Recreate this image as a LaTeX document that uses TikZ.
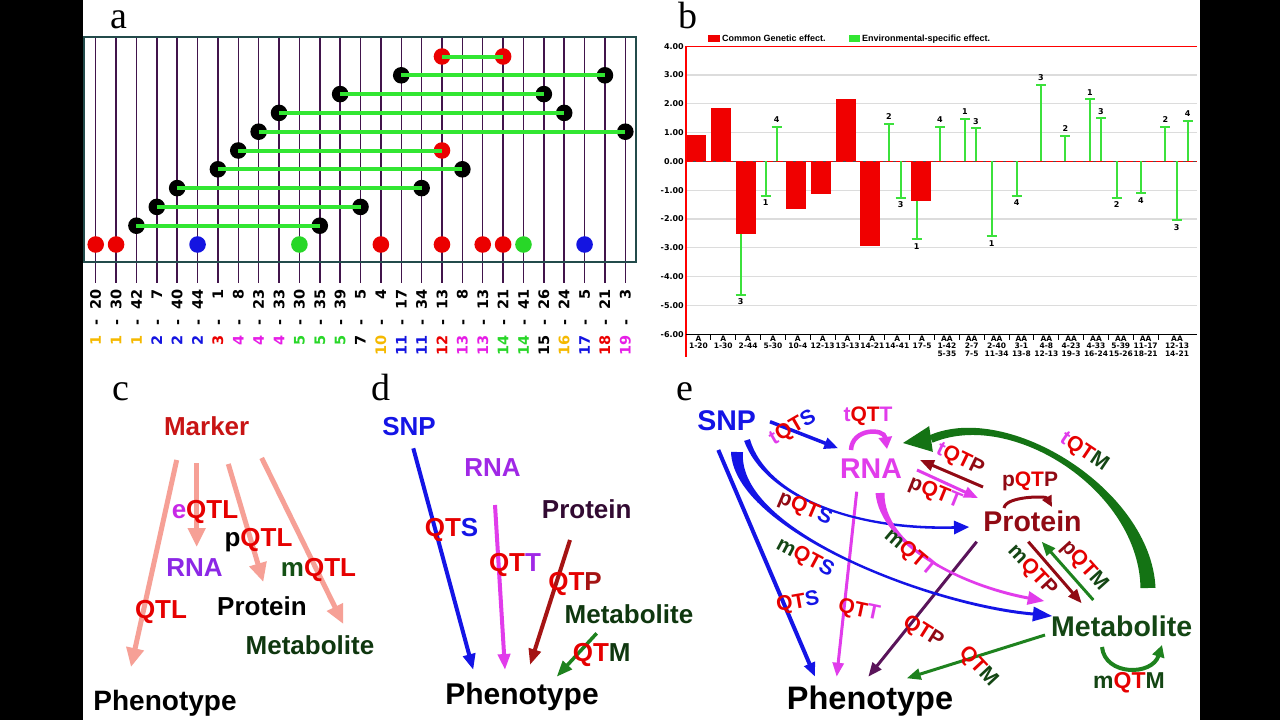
\documentclass[tikz,border=0pt]{standalone}
\usepackage{fontspec}
\setmainfont{Liberation Serif}
\newfontfamily\arl{Liberation Sans}
\newfontfamily\djv{DejaVu Sans}
\usetikzlibrary{arrows.meta,calc}

\definecolor{agold}{RGB}{245,185,0}
\definecolor{ablue}{RGB}{20,20,225}
\definecolor{ared}{RGB}{235,0,0}
\definecolor{amag}{RGB}{230,30,230}
\definecolor{agreen}{RGB}{40,215,40}
\definecolor{ablack}{RGB}{0,0,0}
\definecolor{vline}{RGB}{65,20,75}
\definecolor{frm}{RGB}{35,75,75}
\definecolor{lgreen}{RGB}{50,230,50}
\definecolor{bred}{RGB}{240,0,0}
\definecolor{egreen}{RGB}{60,225,60}
\definecolor{salmon}{RGB}{246,160,150}
\definecolor{qred}{RGB}{230,0,0}
\definecolor{mred}{RGB}{200,20,20}
\definecolor{cpurple}{RGB}{140,40,230}
\definecolor{emag}{RGB}{200,40,230}
\definecolor{dgreen}{RGB}{20,80,20}
\definecolor{metgreen}{RGB}{15,55,15}
\definecolor{sblue}{RGB}{20,20,230}
\definecolor{dpurple}{RGB}{160,40,230}
\definecolor{protd}{RGB}{50,10,50}
\definecolor{darkred}{RGB}{165,20,20}
\definecolor{arrgreen}{RGB}{30,130,30}
\definecolor{emagenta}{RGB}{225,60,235}
\definecolor{eprot}{RGB}{145,10,20}
\definecolor{emet}{RGB}{20,70,20}
\definecolor{epurple}{RGB}{90,20,90}
\definecolor{bgreen}{RGB}{20,115,20}
\definecolor{gridg}{RGB}{220,220,220}

\newcommand\fsz[1]{\fontsize{#1}{#1}\selectfont}
\newcommand\myQT{\textcolor{qred}{QT}}
% tapered filled curve: colour, P0, P1, P2, P3, half widths at P0, P1, P2, P3
\newcommand\taper[9]{%
 \fill[#1] ($(#2)!#6!90:(#3)$) .. controls ($(#3)!#7!-90:(#2)$) and ($(#4)!#8!90:(#5)$) .. ($(#5)!#9!-90:(#4)$) -- ($(#5)!#9!90:(#4)$) .. controls ($(#4)!#8!-90:(#5)$) and ($(#3)!#7!90:(#2)$) .. ($(#2)!#6!-90:(#3)$) -- cycle;}
% arrow head: colour, base centre, tip, half width
\newcommand\ahead[4]{\fill[#1] (#3) -- ($(#2)!#4!90:(#3)$) -- ($(#2)!#4!-90:(#3)$) -- cycle;}

\tikzset{
 plab/.style={inner sep=0, font=\fsz{38}, anchor=base},
 alab/.style={inner sep=0, font=\djv\bfseries\fsz{14.5}, rotate=90, anchor=west},
 vln/.style={vline, line width=1.5pt},
 dot/.style={circle, inner sep=0, minimum size=16.6pt},
 gbar/.style={lgreen, line width=4pt},
 ylab/.style={inner sep=0, font=\djv\bfseries\fsz{8}, anchor=east},
 xlab/.style={inner sep=0, font=\djv\bfseries\fsz{7.5}, anchor=base},
 elab/.style={inner sep=0, font=\djv\bfseries\fsz{8}},
 ebar/.style={egreen, line width=2pt},
 lbl/.style={inner sep=0, font=\arl\bfseries\fsz{26}, anchor=base},
 elbl/.style={inner sep=0, font=\arl\bfseries\fsz{28.5}, anchor=base},
 slbl/.style={inner sep=0, font=\arl\bfseries\fsz{21}},
 carr/.style={salmon, line width=5pt, -{Triangle[length=19pt,width=17pt]}},
 darr/.style={line width=4pt, -{Triangle[length=16pt,width=12pt]}},
 earr/.style={line width=3pt, -{Triangle[length=14pt,width=11pt]}},
}

\begin{document}
\begin{tikzpicture}[x=1pt,y=-1pt]
\useasboundingbox (0,0) rectangle (1280,720);
\fill[black] (0,0) rectangle (1280,720);
\fill[white] (83,0) rectangle (1200,720);

% ================= panel a =================
\node[plab] (pa) at (119,28) {a};
\foreach \i in {0,...,26} \draw[vln] ({95.7+20.37*\i},37) -- ({95.7+20.37*\i},283);
\draw[frm, line width=2.5pt] (84,37) rectangle (636,262);
\foreach \i/\a/\b/\c in {0/1/20/agold,1/1/30/agold,2/1/42/agold,3/2/7/ablue,4/2/40/ablue,5/2/44/ablue,6/3/1/ared,7/4/8/amag,8/4/23/amag,9/4/33/amag,10/5/30/agreen,11/5/35/agreen,12/5/39/agreen,13/7/5/ablack,14/10/4/agold,15/11/17/ablue,16/11/34/ablue,17/12/13/ared,18/13/8/amag,19/13/13/amag,20/14/21/agreen,21/14/41/agreen,22/15/26/ablack,23/16/24/agold,24/17/5/ablue,25/18/21/ared,26/19/3/amag}
  \node[alab] (lab\i) at ({95.7+20.37*\i},356) {\makebox[20.2pt][r]{\color{\c}\a}\makebox[25.6pt][c]{-}\makebox[20.2pt][r]{\b}};
\foreach \i/\c in {0/ared,1/ared,5/ablue,10/agreen,14/ared,17/ared,19/ared,20/ared,21/agreen,24/ablue}
  \node[dot, fill=\c] (b\i) at ({95.7+20.37*\i},244.5) {};
\foreach \r/\y/\l/\rr/\cl/\cr in {1/56.5/17/20/ared/ared,2/75.3/15/25/black/black,3/94.1/12/22/black/black,4/112.9/9/23/black/black,5/131.7/8/26/black/black,6/150.5/7/17/black/ared,7/169.3/6/18/black/black,8/188.1/4/16/black/black,9/206.9/3/13/black/black,10/225.7/2/11/black/black}{
  \node[dot, fill=\cl] (L\r) at ({95.7+20.37*\l},\y) {};
  \node[dot, fill=\cr] (R\r) at ({95.7+20.37*\rr},\y) {};
  \draw[gbar] (L\r.center) -- (R\r.center);
}

% ================= panel b =================
\node[plab] (pb) at (688,28) {b};
\fill[bred] (708,35) rectangle (720,41.7);
\node[inner sep=0, font=\arl\bfseries\fsz{9}, anchor=base west] (lg1) at (722,41.5) {Common Genetic effect.};
\fill[lgreen] (849,35) rectangle (860,41.7);
\node[inner sep=0, font=\arl\bfseries\fsz{9}, anchor=base west] (lg2) at (862,41.5) {Environmental-specific effect.};
\foreach \v in {-5,-4,-3,-2,-1,1,2,3} \draw[gridg, line width=1.2pt] (686,{161.3-28.8*\v}) -- (1197,{161.3-28.8*\v});
\foreach \v/\t in {4/4.00,3/3.00,2/2.00,1/1.00,0/0.00,-1/-1.00,-2/-2.00,-3/-3.00,-4/-4.00,-5/-5.00,-6/-6.00}
  \node[ylab] at (684,{161.3-28.8*\v}) {\t};
\foreach \c/\v in {696/0.93,721/1.84,746/-2.53,796/-1.67,821/-1.12,845.7/2.17,870/-2.94,921/-1.38}
  \fill[bred] ({\c-10},161.3) rectangle ({\c+10},{161.3-28.8*\v});
\draw[gray!60!black, line width=1.2pt] (686,161.3) -- (1197,161.3);
\draw[red, line width=1.2pt, dash pattern=on 7pt off 3pt] (686,161.3) -- (1197,161.3);
\foreach \x/\a/\b/\n/\o in {740.7/-2.53/-4.64/3/7, 765.7/0/-1.19/1/7, 776.7/0/1.2/4/-7, 889/0/1.3/2/-7, 900.7/0/-1.26/3/7, 916.7/-1.38/-2.71/1/7, 940/0/1.2/4/-7, 965/0/1.47/1/-7, 976/0/1.15/3/-7, 991.7/0/-2.6/1/7, 1016.7/0/-1.2/4/7, 1041/0/2.65/3/-7, 1065.3/0/0.89/2/-7, 1090/0/2.15/1/-7, 1101/0/1.49/3/-7, 1116.7/0/-1.26/2/7, 1141/0/-1.11/4/7, 1165.3/0/1.2/2/-7, 1176.7/0/-2.05/3/7, 1187.7/0/1.41/4/-7}{
  \draw[ebar] (\x,{161.3-28.8*\a}) -- (\x,{161.3-28.8*\b});
  \draw[ebar] ({\x-5},{161.3-28.8*\b}) -- ({\x+5},{161.3-28.8*\b});
  \node[elab] at (\x,{161.3-28.8*\b+\o}) {\n};
}
\draw[red, line width=1.2pt] (686,46.1) -- (1197,46.1);
\draw[red, line width=1.2pt] (686,46.1) -- (686,357);
\draw[black, line width=1.4pt] (686,334.5) -- (1197,334.5);
\foreach \k in {1,...,19} \draw[black, line width=1pt] ({686+24.85*\k},334.5) -- ({686+24.85*\k},340);
\foreach \k/\n in {1/1-20,2/1-30,3/2-44,4/5-30,5/10-4,6/12-13,7/13-13,8/14-21,9/14-41,10/17-5}{
  \node[xlab] at ({686+24.85*(\k-0.5)},341) {A};
  \node[xlab] at ({686+24.85*(\k-0.5)},348.5) {\n};
}
\foreach \x/\n/\m in {946.9/1-42/5-35,971.7/2-7/7-5,996.6/2-40/11-34,1021.4/3-1/13-8,1046.3/4-8/12-13,1071.1/4-23/19-3,1096/4-33/16-24,1120.8/5-39/15-26,1145.7/11-17/18-21,1177/12-13/14-21}{
  \node[xlab] at (\x,341) {AA};
  \node[xlab] at (\x,348.5) {\n};
  \node[xlab] at (\x,356) {\m};
}

% ================= panel c =================
\node[plab] (pc) at (120.5,400) {c};
\coordinate (c1s) at (176.7,460); \coordinate (c1e) at (131,667);
\coordinate (c2s) at (196.7,463); \coordinate (c2e) at (196.7,547);
\coordinate (c3s) at (228.3,464); \coordinate (c3e) at (263.3,582);
\coordinate (c4s) at (261.7,458); \coordinate (c4e) at (343.3,624);
\draw[carr] (c1s) -- (c1e);
\draw[carr] (c2s) -- (c2e);
\draw[carr] (c3s) -- (c3e);
\draw[carr] (c4s) -- (c4e);
\node[lbl, mred] (marker) at (206.7,435) {Marker};
\node[lbl] (eqtl) at (205,518) {\textcolor{emag}{e}\myQT\textcolor{qred}{L}};
\node[lbl] (pqtl) at (258.5,546) {p\myQT\textcolor{qred}{L}};
\node[lbl, cpurple] (crna) at (194.5,576) {RNA};
\node[lbl] (mqtl) at (318.5,576) {\textcolor{dgreen}{m}\myQT\textcolor{qred}{L}};
\node[lbl, qred] (qtl) at (161,618) {QTL};
\node[lbl] (cprot) at (262,615) {Protein};
\node[lbl, metgreen] (cmet) at (310,654) {Metabolite};
\node[lbl, font=\arl\bfseries\fsz{28}] (cphen) at (165,710) {Phenotype};

% ================= panel d =================
\node[plab] (pd) at (381,400) {d};
\coordinate (d1s) at (413.3,448.3); \coordinate (d1e) at (473.3,670);
\coordinate (d2s) at (495,505); \coordinate (d2e) at (505,670);
\coordinate (d3s) at (570,540); \coordinate (d3e) at (530,665);
\coordinate (d4s) at (596.7,633.3); \coordinate (d4e) at (556.7,676.7);
\draw[darr, sblue] (d1s) -- (d1e);
\draw[darr, emagenta] (d2s) -- (d2e);
\draw[darr, darkred] (d3s) -- (d3e);
\draw[darr, arrgreen, line width=3.5pt] (d4s) -- (d4e);
\node[lbl, sblue] (dsnp) at (409,435) {SNP};
\node[lbl, dpurple] (drna) at (492.5,476.5) {RNA};
\node[lbl, protd] (dprot) at (586.7,518) {Protein};
\node[lbl] (dqts) at (451.5,536.5) {\myQT\textcolor{sblue}{S}};
\node[lbl] (dqtt) at (515,571) {\myQT\textcolor{dpurple}{T}};
\node[lbl] (dqtp) at (575,590) {\myQT\textcolor{darkred}{P}};
\node[lbl, metgreen] (dmet) at (629,623) {Metabolite};
\node[lbl] (dqtm) at (601.7,661) {\myQT\textcolor{metgreen}{M}};
\node[lbl, font=\arl\bfseries\fsz{30}] (dphen) at (522,704.5) {Phenotype};

% ================= panel e =================
\node[plab] (pe) at (685,400) {e};
% straight arrows
\coordinate (e1s) at (770,421.7); \coordinate (e1e) at (838.3,448.3);
\coordinate (e2s) at (718.3,450); \coordinate (e2e) at (815,676.7);
\coordinate (e3s) at (856.7,491.7); \coordinate (e3e) at (836.7,676.7);
\coordinate (e4s) at (976.7,541.7); \coordinate (e4e) at (868.3,676.7);
\coordinate (e5s) at (1045,635); \coordinate (e5e) at (906.7,678.3);
\coordinate (e6s) at (917,470); \coordinate (e6e) at (978,498);
\coordinate (e7s) at (983,487); \coordinate (e7e) at (920,460);
\coordinate (e8s) at (1028.3,541.7); \coordinate (e8e) at (1081.7,603.3);
\coordinate (e9s) at (1093.3,600); \coordinate (e9e) at (1041.7,541.7);
\draw[earr, sblue, line width=3.5pt] (e1s) -- (e1e);
\draw[earr, sblue, line width=4pt] (e2s) -- (e2e);
\draw[earr, emagenta] (e3s) -- (e3e);
\draw[earr, epurple] (e4s) -- (e4e);
\draw[earr, arrgreen] (e5s) -- (e5e);
\draw[earr, emagenta] (e6s) -- (e6e);
\draw[earr, eprot] (e7s) -- (e7e);
\draw[earr, eprot] (e8s) -- (e8e);
\draw[earr, arrgreen] (e9s) -- (e9e);
% self loops
\coordinate (l1s) at (851,450); \coordinate (l1e) at (887,449);
\draw[emagenta, line width=4.5pt, -{Triangle[length=12pt,width=13pt]}] (l1s) .. controls (852,428) and (884,428) .. (l1e);
\coordinate (l2s) at (1004,508); \coordinate (l2e) at (1052,507);
\draw[eprot, line width=3pt, -{Triangle[length=11pt,width=10pt]}] (l2s) .. controls (1006,496) and (1046,496) .. (l2e);
\coordinate (l3s) at (1102,647); \coordinate (l3e) at (1162,645);
\draw[arrgreen, line width=4pt, -{Triangle[length=12pt,width=12pt]}] (l3s) .. controls (1105,676) and (1152,676) .. (l3e);
% tapered curves
\coordinate (pA0) at (747,440); \coordinate (pA1) at (765,495); \coordinate (pA2) at (850,530); \coordinate (pA3) at (954,527.5); \coordinate (pAt) at (969,527);
\taper{sblue}{pA0}{pA1}{pA2}{pA3}{3pt}{1.3pt}{1.3pt}{1.3pt}
\ahead{sblue}{pA3}{pAt}{7pt}
\coordinate (mA0) at (737,452); \coordinate (mA1) at (735,530); \coordinate (mA2) at (930,605); \coordinate (mA3) at (1033,614); \coordinate (mAt) at (1052,616);
\taper{sblue}{mA0}{mA1}{mA2}{mA3}{6pt}{1.6pt}{1.5pt}{1.5pt}
\ahead{sblue}{mA3}{mAt}{7.5pt}
\coordinate (tA0) at (880,493); \coordinate (tA1) at (882,545); \coordinate (tA2) at (960,585); \coordinate (tA3) at (1028,598); \coordinate (tAt) at (1044,601);
\taper{emagenta}{tA0}{tA1}{tA2}{tA3}{4.5pt}{1.5pt}{1.5pt}{1.5pt}
\ahead{emagenta}{tA3}{tAt}{7pt}
\coordinate (gA0) at (1148,588); \coordinate (gA1) at (1145,490); \coordinate (gA2) at (1010,405); \coordinate (gA3) at (931,439); \coordinate (gAt) at (903,443);
\taper{bgreen}{gA0}{gA1}{gA2}{gA3}{7.5pt}{6pt}{4.5pt}{4pt}
\ahead{bgreen}{gA3}{gAt}{13pt}
% main labels
\node[elbl, sblue] (esnp) at (726.7,430) {SNP};
\node[elbl, emagenta] (erna) at (871,478) {RNA};
\node[elbl, eprot] (eprotn) at (1032.5,531.5) {Protein};
\node[elbl, emet] (emetn) at (1121.7,636.5) {Metabolite};
\node[elbl, font=\arl\bfseries\fsz{32.5}] (ephen) at (870,709.5) {Phenotype};
% small labels
\node[slbl, anchor=base] (ltqtt) at (868,421) {\textcolor{emagenta}{t}\myQT\textcolor{emagenta}{T}};
\node[slbl, anchor=base] (lpqtp) at (1030,486) {\textcolor{eprot}{p}\myQT\textcolor{eprot}{P}};
\node[slbl, anchor=base, font=\arl\bfseries\fsz{23}] (lmqtm) at (1129,688) {\textcolor{emet}{m}\myQT\textcolor{emet}{M}};
\node[slbl, rotate=30] (ltqts) at (793,428) {\textcolor{emagenta}{t}\myQT\textcolor{sblue}{S}};
\node[slbl, rotate=-26] (ltqtp) at (960,460) {\textcolor{emagenta}{t}\myQT\textcolor{eprot}{P}};
\node[slbl, rotate=-22] (lpqtt) at (935,493) {\textcolor{eprot}{p}\myQT\textcolor{emagenta}{T}};
\node[slbl, rotate=-23] (lpqts) at (805,509) {\textcolor{eprot}{p}\myQT\textcolor{sblue}{S}};
\node[slbl, rotate=-28] (lmqts) at (805,558) {\textcolor{emet}{m}\myQT\textcolor{sblue}{S}};
\node[slbl, rotate=10] (lqts) at (798,603) {\myQT\textcolor{sblue}{S}};
\node[slbl, rotate=-12] (lqtt) at (859,611) {\myQT\textcolor{emagenta}{T}};
\node[slbl, rotate=-40] (lmqtt) at (910,553) {\textcolor{emet}{m}\myQT\textcolor{emagenta}{T}};
\node[slbl, rotate=-32] (lqtp) at (923,632) {\myQT\textcolor{eprot}{P}};
\node[slbl, rotate=-47] (lqtm) at (978,667) {\myQT\textcolor{emet}{M}};
\node[slbl, rotate=-47] (lmqtp) at (1032,571) {\textcolor{emet}{m}\myQT\textcolor{eprot}{P}};
\node[slbl, rotate=-48] (lpqtm) at (1084,566) {\textcolor{eprot}{p}\myQT\textcolor{emet}{M}};
\node[slbl, rotate=-34] (ltqtm) at (1084,452) {\textcolor{emagenta}{t}\myQT\textcolor{emet}{M}};
\end{tikzpicture}
\end{document}
